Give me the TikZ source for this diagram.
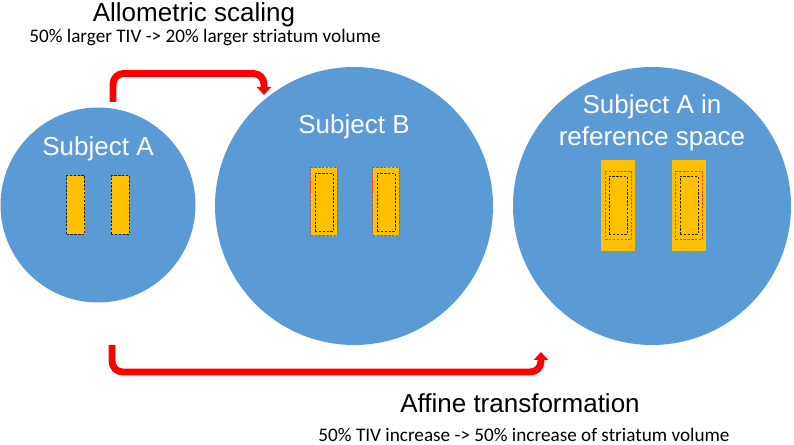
\documentclass[tikz,border=0pt]{standalone}
\usepackage{fontspec}
\setmainfont{Liberation Sans}
\newfontfamily\calfont{Carlito}
\usetikzlibrary{arrows.meta}
\definecolor{blob}{HTML}{5B9BD5}
\definecolor{stri}{HTML}{FFC000}
\definecolor{redl}{HTML}{FF0000}
\definecolor{redd}{HTML}{E2452A}
\begin{document}
\begin{tikzpicture}[x=0.75pt,y=-0.75pt,
  head/.style={font=\fontsize{19.5}{24}\selectfont, text=black, anchor=base, inner sep=0pt},
  sub/.style={font=\calfont\fontsize{14.4}{17}\selectfont, text=black, anchor=base, inner sep=0pt},
  ctext/.style={font=\fontsize{19.5}{24}\selectfont, text=white, anchor=base, inner sep=0pt, align=center},
  blobc/.style={circle, fill=blob, draw=none, inner sep=0pt},
  blackbox/.style={rectangle, draw=black!85, dash pattern=on 1.8pt off 1.1pt, line width=0.75pt, inner sep=0pt, minimum width=13.5pt, minimum height=44pt},
  redbox/.style={rectangle, draw=redd, dash pattern=on 1.8pt off 1.1pt, line width=0.85pt, inner sep=0pt, minimum width=20pt, minimum height=51.5pt},
  bigbox/.style={rectangle, fill=stri, draw=none, inner sep=0pt, minimum width=25.5pt, minimum height=68.25pt},
  arr/.style={draw=redl, line width=5.2pt, rounded corners=8pt, -{Triangle[width=10.5pt,length=6pt]}}
]
\useasboundingbox (0,0) rectangle (794,445);
% circles
\node[blobc, minimum size=146.25pt] (A) at (98,205) {};
\node[blobc, minimum size=208.5pt] (B) at (354,206) {};
\node[blobc, minimum size=208.5pt] (C) at (652,206) {};
% circle labels
\node[ctext] (la) at (98,156) {Subject A};
\node[ctext] (lb) at (354,134) {Subject B};
\node[ctext] (lc1) at (652,114) {Subject A in};
\node[ctext] (lc2) at (652,146) {reference space};
% subject A striata
\node[blackbox, fill=stri] (a1) at (75.5,205) {};
\node[blackbox, fill=stri] (a2) at (120,205) {};
% subject B striata
\node[redbox, fill=stri] (b1o) at (324,201.5) {};
\node[blackbox] (b1i) at (324,202.5) {};
\node[redbox, fill=stri] (b2o) at (386,201.5) {};
\node[blackbox] (b2i) at (386,202.5) {};
% reference space striata
\node[bigbox] (c1b) at (618,205.5) {};
\node[redbox] (c1r) at (618.5,205.5) {};
\node[blackbox] (c1i) at (618,205.5) {};
\node[bigbox] (c2b) at (688.5,205.5) {};
\node[redbox] (c2r) at (689,205.5) {};
\node[blackbox] (c2i) at (689,205.5) {};
% arrows
\coordinate (t1) at (113,102);
\coordinate (t2) at (113,73.5);
\coordinate (t3) at (264,73.5);
\coordinate (t4) at (264,95);
\draw[arr] (t1) -- (t2) -- (t3) -- (t4);
\coordinate (u1) at (112,345);
\coordinate (u2) at (112,372);
\coordinate (u3) at (541,372);
\coordinate (u4) at (541,352);
\draw[arr] (u1) -- (u2) -- (u3) -- (u4);
% titles
\node[head] (h1) at (194,21.5) {Allometric scaling};
\node[sub] (s1) at (205,42.5) {50\% larger TIV -> 20\% larger striatum volume};
\node[head] (h2) at (520,413) {Affine transformation};
\node[sub] (s2) at (524,442) {50\% TIV increase -> 50\% increase of striatum volume};
\end{tikzpicture}
\end{document}
